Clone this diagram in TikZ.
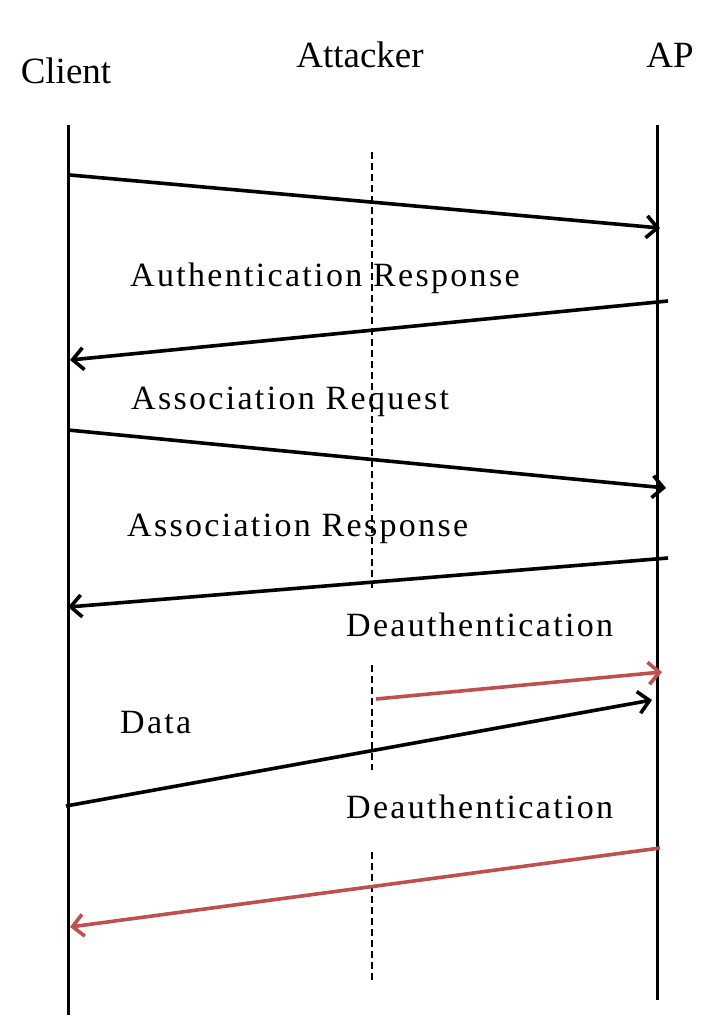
\documentclass[tikz,border=0pt]{standalone}
\usepackage{fontspec}
\setmainfont{Liberation Serif}
\newfontfamily\spaced[LetterSpace=6.8]{Liberation Serif}
\usetikzlibrary{arrows.meta}
\definecolor{dred}{RGB}{192,80,77}
\begin{document}
\begin{tikzpicture}[x=1pt,y=-1pt,
 life/.style={line width=3pt},
 atk/.style={line width=2.4pt,dash pattern=on 7pt off 4pt},
 msg/.style={line width=3.6pt,-{Straight Barb[length=11pt,width=22pt]}},
 attackmsg/.style={msg,draw=dred},
 head/.style={font=\fontsize{37}{40}\selectfont,anchor=base,inner sep=0pt},
 lbl/.style={font=\spaced\fontsize{34}{38}\selectfont,anchor=base west,inner sep=0pt}]
\useasboundingbox (0,0) rectangle (718,1036);
% headers
\node[head] (hc) at (66,83) {Client};
\node[head] (ha) at (360,67) {Attacker};
\node[head] (hp) at (670,67) {AP};
% lifelines
\coordinate (C0) at (68,125); \coordinate (C1) at (68,1015);
\coordinate (P0) at (657,125); \coordinate (P1) at (657,1000);
\coordinate (A0) at (372,152); \coordinate (A1) at (372,588);
\coordinate (A2) at (372,665); \coordinate (A3) at (372,770);
\coordinate (A4) at (372,852); \coordinate (A5) at (372,980);
\draw[life] (C0) -- (C1);
\draw[life] (P0) -- (P1);
\draw[atk] (A0) -- (A1);
\draw[atk] (A2) -- (A3);
\draw[atk] (A4) -- (A5);
% message end points
\coordinate (m1a) at (70,175);  \coordinate (m1b) at (660,228);
\coordinate (m2a) at (668,301); \coordinate (m2b) at (70,360);
\coordinate (m3a) at (68,430);  \coordinate (m3b) at (666,488);
\coordinate (m4a) at (668,558); \coordinate (m4b) at (68,607);
\coordinate (m5a) at (376,699); \coordinate (m5b) at (662,672);
\coordinate (m6a) at (66,806);  \coordinate (m6b) at (652,700);
\coordinate (m7a) at (660,848); \coordinate (m7b) at (70,927);
\draw[msg] (m1a) -- (m1b);
\draw[msg] (m2a) -- (m2b);
\draw[msg] (m3a) -- (m3b);
\draw[msg] (m4a) -- (m4b);
\draw[attackmsg] (m5a) -- (m5b);
\draw[msg] (m6a) -- (m6b);
\draw[attackmsg] (m7a) -- (m7b);
% labels
\node[lbl] (l2) at (130,286) {Authentication Response};
\node[lbl] (l3) at (131,409) {Association Request};
\node[lbl] (l4) at (127,536) {Association Response};
\node[lbl] (l5) at (346,636) {Deauthentication};
\node[lbl] (l6) at (120,733) {Data};
\node[lbl] (l7) at (346,818) {Deauthentication};
\end{tikzpicture}
\end{document}
